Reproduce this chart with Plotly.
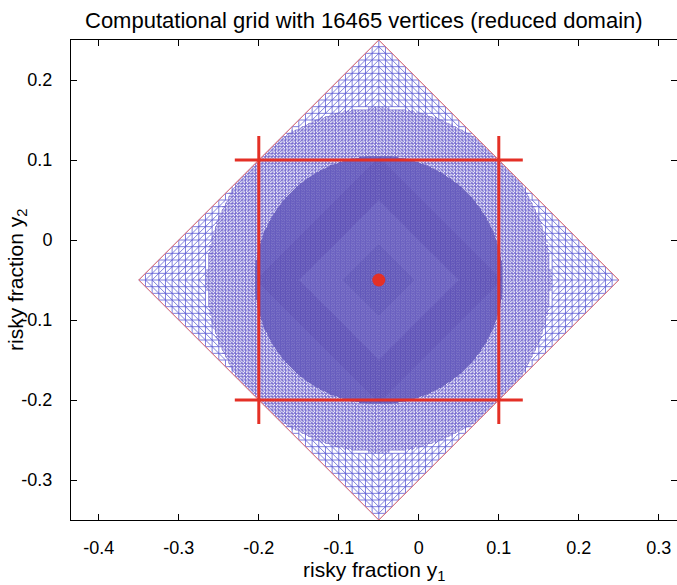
import numpy as np
import plotly.graph_objects as go

# Domain: diamond |y1 - c1| + |y2 - c2| <= half_diag, refined towards the centre
center = (-0.05, -0.05)
half_diag = 0.30
base_cells = 36                     # cells per half-diagonal on the coarse level
refine_radii = [0.215, 0.155]       # radius where level 1 / level 2 refinement starts
level_colors = ["rgb(92,92,212)", "rgb(112,102,206)"]
level_widths = [0.8, 0.85]

# The finest level is drawn in diamond-shaped bands (L1 distance from centre)
fine_bands = [0.0, 0.045, 0.10, 0.155, 1.0]
fine_colors = ["rgb(98,88,186)", "rgb(106,96,192)", "rgb(96,84,184)", "rgb(102,92,190)"]

# Box of interest and optimal point
box_lo, box_hi = -0.20, 0.10
box_ext = 0.03
opt_point = (-0.05, -0.05)

x_ticks = [-0.4, -0.3, -0.2, -0.1, 0.0, 0.1, 0.2, 0.3]
x_ticktext = ["-0.4", "-0.3", "-0.2", "-0.1", "0", "0.1", "0.2", "0.3"]
y_ticks = [-0.3, -0.2, -0.1, 0.0, 0.1, 0.2]
y_ticktext = ["-0.3", "-0.2", "-0.1", "0", "0.1", "0.2"]

title_text = "Computational grid with 16465 vertices (reduced domain)"


def level_edges(n_cells, r_min, r_max, l1_min=0.0, l1_max=np.inf):
    """Polylines of a structured union-jack triangulation of the diamond,
    restricted to edges whose midpoint lies in r_min <= r < r_max."""
    h = half_diag / n_cells
    n = n_cells
    xs, ys = [], []
    rng = np.arange(-n, n + 1)
    I, J = np.meshgrid(rng, rng, indexing="ij")
    for di, dj in [(1, 0), (0, 1), (1, 1), (1, -1)]:
        I2, J2 = I + di, J + dj
        inside = (np.abs(I) + np.abs(J) <= n) & (np.abs(I2) + np.abs(J2) <= n)
        mx = (I + I2) / 2.0 * h
        my = (J + J2) / 2.0 * h
        r = np.hypot(mx, my)
        l1 = np.abs(mx) + np.abs(my)
        mask = inside & (r >= r_min) & (r < r_max) & (l1 >= l1_min) & (l1 < l1_max)
        if di == 1 and dj == 1:
            mask &= (mx * my < 0)
        elif di == 1 and dj == -1:
            mask &= (mx * my > 0)
        if (di, dj) == (1, 0):
            line_id, param = J, I
        elif (di, dj) == (0, 1):
            line_id, param = I, J
        elif (di, dj) == (1, 1):
            line_id, param = J - I, I
        else:
            line_id, param = I + J, I
        lid = line_id[mask]
        par = param[mask]
        si = I[mask]
        sj = J[mask]
        if len(lid) == 0:
            continue
        order = np.lexsort((par, lid))
        lid, par, si, sj = lid[order], par[order], si[order], sj[order]
        brk = np.ones(len(lid), dtype=bool)
        brk[1:] = (lid[1:] != lid[:-1]) | (par[1:] != par[:-1] + 1)
        starts = np.flatnonzero(brk)
        ends = np.append(starts[1:], len(lid)) - 1
        for s, e in zip(starts, ends):
            x0 = center[0] + si[s] * h
            y0 = center[1] + sj[s] * h
            x1 = center[0] + (si[e] + di) * h
            y1 = center[1] + (sj[e] + dj) * h
            xs += [x0, x1, None]
            ys += [y0, y1, None]
    return xs, ys


fig = go.Figure()

# Coarse and intermediate levels
bounds = [(refine_radii[0], np.inf), (refine_radii[1], refine_radii[0])]
for lvl, (rmin, rmax) in enumerate(bounds):
    xs, ys = level_edges(base_cells * 2 ** lvl, rmin, rmax)
    fig.add_trace(go.Scatter(
        x=xs, y=ys, mode="lines",
        line=dict(color=level_colors[lvl], width=level_widths[lvl]),
        hoverinfo="skip", showlegend=False,
    ))

# Finest level inside the inner disc
for k in range(len(fine_colors)):
    xs, ys = level_edges(base_cells * 4, 0.0, refine_radii[1],
                         fine_bands[k], fine_bands[k + 1])
    fig.add_trace(go.Scatter(
        x=xs, y=ys, mode="lines",
        line=dict(color=fine_colors[k], width=1.0),
        hoverinfo="skip", showlegend=False,
    ))

# Diamond boundary
cx, cy = center
fig.add_trace(go.Scatter(
    x=[cx - half_diag, cx, cx + half_diag, cx, cx - half_diag],
    y=[cy, cy + half_diag, cy, cy - half_diag, cy],
    mode="lines", line=dict(color="rgb(240,120,110)", width=1),
    hoverinfo="skip", showlegend=False,
))

# Box lines, extended past the corners
bx, by = [], []
for v in (box_lo, box_hi):
    bx += [box_lo - box_ext, box_hi + box_ext, None]
    by += [v, v, None]
    bx += [v, v, None]
    by += [box_lo - box_ext, box_hi + box_ext, None]
fig.add_trace(go.Scatter(
    x=bx, y=by, mode="lines", line=dict(color="rgb(228,48,38)", width=3),
    hoverinfo="skip", showlegend=False,
))

fig.add_trace(go.Scatter(
    x=[opt_point[0]], y=[opt_point[1]], mode="markers",
    marker=dict(color="rgb(228,48,38)", size=13),
    hoverinfo="skip", showlegend=False,
))

font_family = "Liberation Sans, Arial, sans-serif"
axis_common = dict(
    showgrid=False, zeroline=False, showline=True, linecolor="black", linewidth=1,
    mirror="allticks", ticks="inside", ticklen=6, tickcolor="black",
    tickfont=dict(family=font_family, size=18, color="black"),
)

fig.update_layout(
    width=677, height=585,
    margin=dict(l=71, r=0, t=40, b=65),
    paper_bgcolor="white", plot_bgcolor="white",
    xaxis=dict(range=[-0.43475, 0.32275], tickvals=x_ticks, ticktext=x_ticktext,
               ticklabelstandoff=11, **axis_common),
    yaxis=dict(range=[-0.35, 0.25], tickvals=y_ticks, ticktext=y_ticktext,
               ticklabelstandoff=14, **axis_common),
    annotations=[
        dict(text=title_text, xref="paper", yref="paper", x=0.483, y=1.0, yshift=20,
             showarrow=False, yanchor="middle", xanchor="center",
             font=dict(family=font_family, size=22, color="black")),
        dict(text="risky fraction y<sub>1</sub>", xref="paper", yref="paper",
             x=0.5, y=0, yshift=-51, showarrow=False, yanchor="middle",
             font=dict(family=font_family, size=21, color="black")),
        dict(text="risky fraction y<sub>2</sub>", xref="paper", yref="paper",
             x=0, xshift=-54, y=0.5, showarrow=False, textangle=-90,
             xanchor="center", yanchor="middle",
             font=dict(family=font_family, size=21, color="black")),
    ],
)

fig.write_html("out.html")
